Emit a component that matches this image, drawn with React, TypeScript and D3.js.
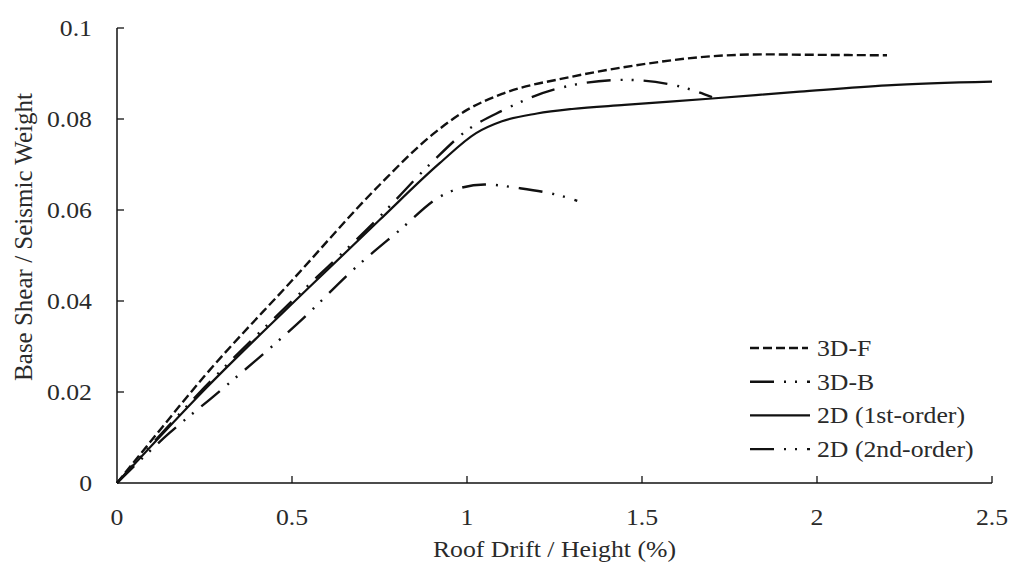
import React from "react";
import * as d3 from "d3";

type Pt = [number, number];

const xTicks = [0, 0.5, 1, 1.5, 2, 2.5];
const yTicks = [0, 0.02, 0.04, 0.06, 0.08, 0.1];
const xTickLabels = ["0", "0.5", "1", "1.5", "2", "2.5"];
const yTickLabels = ["0", "0.02", "0.04", "0.06", "0.08", "0.1"];

const series3DF: Pt[] = [
  [0, 0], [0.1, 0.0095], [0.25, 0.0235], [0.5, 0.0445], [0.75, 0.0655],
  [0.9, 0.0765], [1.0, 0.082], [1.1, 0.0855], [1.3, 0.0893], [1.5, 0.092],
  [1.7, 0.0938], [1.85, 0.0942], [2.0, 0.0941], [2.2, 0.094],
];
const series3DB: Pt[] = [
  [0, 0], [0.15, 0.011], [0.275, 0.019], [0.532, 0.0362], [0.684, 0.0475],
  [0.808, 0.0556], [0.922, 0.0629], [0.98, 0.0648], [1.05, 0.0656],
  [1.15, 0.0648], [1.3, 0.0624], [1.315, 0.062],
];
const series2D1: Pt[] = [
  [0, 0], [0.25, 0.0205], [0.541, 0.0424], [0.75, 0.0578], [0.922, 0.0703],
  [1.026, 0.0769], [1.1, 0.0795], [1.2, 0.0812], [1.3, 0.0822], [1.45, 0.0831],
  [1.7, 0.0845], [1.95, 0.086], [2.2, 0.0874], [2.5, 0.0882],
];
const series2D2: Pt[] = [
  [0, 0], [0.25, 0.021], [0.5, 0.04], [0.75, 0.0585], [0.9, 0.0705],
  [1.0, 0.0775], [1.1, 0.0818], [1.25, 0.0865], [1.45, 0.0886], [1.6, 0.0873],
  [1.7, 0.0848],
];

const legendNames = ["3D-F", "3D-B", "2D (1st-order)", "2D (2nd-order)"];
const dashes = ["9,4", "24,10,2,9,2,10", "", "24,10,2,9,2,10"];
const allSeries = [series3DF, series3DB, series2D1, series2D2];

export default function App() {
  const left = 117, right = 992, top = 28, bottom = 483;
  const x = d3.scaleLinear().domain([0, 2.5]).range([left, right]);
  const y = d3.scaleLinear().domain([0, 0.1]).range([bottom, top]);
  const line = d3.line<Pt>().x(d => x(d[0])).y(d => y(d[1])).curve(d3.curveMonotoneX);
  const font = "'Liberation Serif', 'Times New Roman', serif";
  const color = "#111";
  const txt = "#2a2a2a";
  const fs = 23;
  const sx = 1.12;
  const legX = 750, legY0 = 348, legDy = 33.7;

  return (
    <svg width={1013} height={571} style={{ position: "absolute", left: 0, top: 0, background: "#fff", fontFamily: font }}>
      <rect width={1013} height={571} fill="#fff" />
      <line x1={left} x2={left} y1={top} y2={bottom} stroke={color} strokeWidth={1.5} />
      <line x1={left} x2={right} y1={bottom} y2={bottom} stroke={color} strokeWidth={1.5} />
      {xTicks.map((t, i) => (
        <g key={"x" + i}>
          {i > 0 && <line x1={x(t)} x2={x(t)} y1={bottom} y2={bottom - 7} stroke={color} strokeWidth={1.3} />}
          <text transform={`translate(${x(t)},525) scale(${sx},1)`} textAnchor="middle" fontSize={fs} fill={txt}>{xTickLabels[i]}</text>
        </g>
      ))}
      {yTicks.map((t, i) => (
        <g key={"y" + i}>
          {i > 0 && <line x1={left} x2={left + 7} y1={y(t)} y2={y(t)} stroke={color} strokeWidth={1.3} />}
          <text transform={`translate(92,${y(t) + 8}) scale(${sx},1)`} textAnchor="end" fontSize={fs} fill={txt}>{yTickLabels[i]}</text>
        </g>
      ))}
      <text transform={`translate(${(left + right) / 2},557) scale(${sx},1)`} textAnchor="middle" fontSize={fs} fill={txt}>Roof Drift / Height (%)</text>
      <text transform={`translate(32,237) rotate(-90)`} textAnchor="middle" fontSize={25} fill={txt}>
        Base Shear / Seismic Weight
      </text>
      {allSeries.map((s, i) => (
        <path key={"s" + i} d={line(s) || ""} fill="none" stroke={color}
          strokeWidth={i === 2 ? 2.2 : 2.4} strokeDasharray={dashes[i] || undefined} />
      ))}
      {legendNames.map((n, i) => {
        const ly = legY0 + i * legDy;
        return (
          <g key={"l" + i}>
            <line x1={legX} x2={i === 0 ? 808 : 810} y1={ly} y2={ly} stroke={color} strokeWidth={2.4}
              strokeDasharray={dashes[i] || undefined} />
            <text transform={`translate(817,${ly + 8}) scale(${sx},1)`} fontSize={fs} fill={txt}>{n}</text>
          </g>
        );
      })}
    </svg>
  );
}
